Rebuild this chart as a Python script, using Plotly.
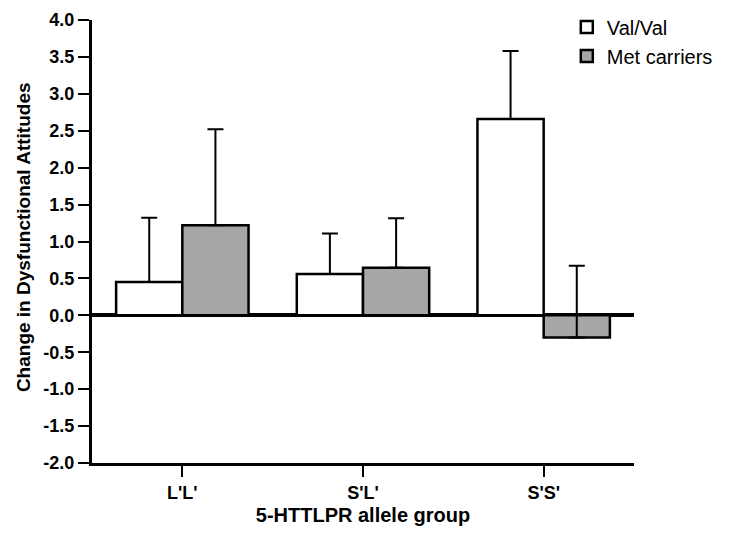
import plotly.graph_objects as go

categories = ["L'L'", "S'L'", "S'S'"]
val_means = [0.45, 0.56, 2.66]
val_err = [0.87, 0.55, 0.92]
met_means = [1.22, 0.645, -0.30]
met_err = [1.30, 0.67, 0.97]
y_ticks = [-2.0, -1.5, -1.0, -0.5, 0.0, 0.5, 1.0, 1.5, 2.0, 2.5, 3.0, 3.5, 4.0]

FONT = "Liberation Sans, Arial, Helvetica, sans-serif"

fig = go.Figure()
fig.add_trace(go.Bar(
    name="Val/Val", x=categories, y=val_means,
    marker=dict(color="white", line=dict(color="black", width=2.5)),
    error_y=dict(type="data", array=val_err, arrayminus=[0, 0, 0], symmetric=False,
                 color="black", thickness=2, width=8),
))
fig.add_trace(go.Bar(
    name="Met carriers", x=categories, y=met_means,
    marker=dict(color="#a6a6a6", line=dict(color="black", width=2.5)),
    error_y=dict(type="data", array=met_err, arrayminus=[0, 0, 0], symmetric=False,
                 color="black", thickness=2, width=8),
))

fig.update_layout(
    width=729, height=540,
    margin=dict(l=84, r=103, t=12, b=85, autoexpand=False),
    paper_bgcolor="white", plot_bgcolor="white",
    barmode="group", bargap=0.267, bargroupgap=0,
    font=dict(family=FONT, color="black", size=18),
    legend=dict(x=0.876, y=1.028, xanchor="left", yanchor="top",
                font=dict(family=FONT, size=20, color="black"),
                bgcolor="rgba(0,0,0,0)", itemclick=False, tracegroupgap=0),
    showlegend=True,
    annotations=[dict(
        text="Change in Dysfunctional Attitudes", textangle=-90,
        xref="paper", yref="paper", x=-0.1264, y=0.511,
        xanchor="center", yanchor="middle", showarrow=False,
        font=dict(family=FONT, size=19, weight="bold", color="black"),
    )],
)
fig.update_xaxes(
    range=[-0.5, 2.5], showline=True, linewidth=3, linecolor="black",
    ticks="outside", ticklen=11, tickwidth=2, tickcolor="black",
    tickfont=dict(family=FONT, size=18, weight="bold"),
    showgrid=False, zeroline=False,
    title=dict(text="5-HTTLPR allele group", font=dict(family=FONT, size=20, weight="bold"), standoff=7),
)
fig.update_yaxes(
    range=[-2, 4], tickvals=y_ticks, ticktext=[f"{v:.1f}" for v in y_ticks],
    showline=True, linewidth=3, linecolor="black",
    ticks="outside", ticklen=11, tickwidth=2, tickcolor="black",
    tickfont=dict(family=FONT, size=18, weight="bold"),
    showgrid=False, zeroline=True, zerolinewidth=4, zerolinecolor="black",
)

fig.write_html("out.html")
